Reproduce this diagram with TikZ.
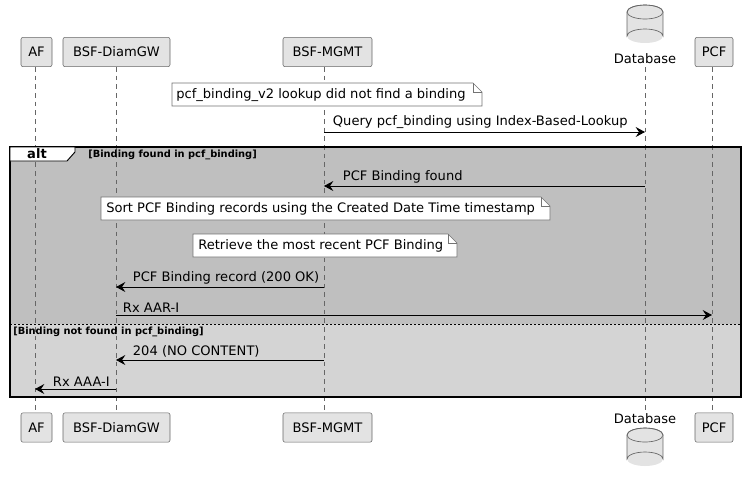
\documentclass[tikz,border=0pt]{standalone}
\usepackage{fontspec}
\setmainfont{DejaVu Sans}
\usetikzlibrary{arrows.meta}
\begin{document}
\begin{tikzpicture}[x=0.75pt,y=-0.75pt,font=\fontsize{9.8}{11}\selectfont,
 part/.style={draw=black!60,fill=black!11,rounded corners=1.5pt,minimum height=22pt,inner sep=3pt},
 life/.style={draw=black!60,dash pattern=on 3.5pt off 3pt,line width=0.5pt},
 msg/.style={-{Stealth[length=7pt,width=7.5pt,inset=2.5pt]},line width=0.7pt},
 lbl/.style={anchor=south west,inner sep=2pt},
 note/.style={draw=black!55,fill=white,line width=0.5pt}]
\useasboundingbox (0,0) rectangle (755,480);
% frame
\fill[black!25] (10,147) rectangle (741,324);
\fill[black!17] (10,324) rectangle (741,397);
% lifelines
\foreach \n/\x in {af/35,gw/116,mg/324,db/645,pcf/712}{
 \draw[life] (\x,67) -- (\x,413);
 \coordinate (\n) at (\x,0);}
% participants
\foreach \t/\x/\w in {AF/36.5/31,BSF-DiamGW/116.5/107,BSF-MGMT/327.5/89,PCF/714/38}{
 \node[part,minimum width=\w*0.75pt] (top\t) at (\x,52) {\t};
 \node[part,minimum width=\w*0.75pt] (bot\t) at (\x,427.5) {\t};}
% database cylinders
\newcommand{\dbcyl}[2]{%
 \fill[black!11] (#1-18,#2) rectangle (#1+18,#2+24);
 \fill[black!11] (#1,#2+24) ellipse (18 and 7);
 \draw[black!60,line width=0.5pt] (#1-18,#2) -- (#1-18,#2+24) arc[start angle=180,end angle=360,x radius=18,y radius=7] -- (#1+18,#2);
 \draw[black!60,fill=black!11,line width=0.5pt] (#1,#2) ellipse (18 and 7);
 \draw[black!60,line width=0.5pt] (#1-18,#2) arc[start angle=180,end angle=360,x radius=18,y radius=7];}
\dbcyl{645}{12}
\node (dbtop) at (645,59) {Database};
\dbcyl{645}{435}
\node (dbbot) at (645,419) {Database};
% note 1
\draw[note] (172,83) -- (473,83) -- (482,92) -- (482,106) -- (172,106) -- cycle;
\draw[black!55,line width=0.5pt] (473,83) -- (473,92) -- (482,92);
\node[anchor=west,inner sep=0] (n1) at (176,95) {pcf\_binding\_v2 lookup did not find a binding};
% query
\draw[msg] (324,132) -- (645,132);
\node[lbl] (q) at (330,132) {Query pcf\_binding using Index-Based-Lookup};
% alt frame
\draw[line width=1.3pt] (10,147) rectangle (741,397);
\draw[fill=white,line width=0.7pt] (10,147) -- (75,147) -- (75,152) -- (67,161) -- (10,161) -- cycle;
\node[font=\fontsize{9.8}{11}\bfseries\selectfont] (alt) at (37,154) {alt};
\node[anchor=west,inner sep=0,font=\fontsize{7.4}{9}\bfseries\selectfont] (c1) at (88,155) {[Binding found in pcf\_binding]};
\draw[msg] (645,186) -- (324,186);
\node[lbl] (m2) at (340,186) {PCF Binding found};
% notes
\draw[note] (101,197) -- (541,197) -- (550,206) -- (550,220) -- (101,220) -- cycle;
\draw[black!55,line width=0.5pt] (541,197) -- (541,206) -- (550,206);
\node[anchor=west,inner sep=0] (n2) at (106,209) {Sort PCF Binding records using the Created Date Time timestamp};
\draw[note] (193,234) -- (448,234) -- (457,243) -- (457,257) -- (193,257) -- cycle;
\draw[black!55,line width=0.5pt] (448,234) -- (448,243) -- (457,243);
\node[anchor=west,inner sep=0] (n3) at (198,246) {Retrieve the most recent PCF Binding};
\draw[msg] (324,287) -- (116,287);
\node[lbl] (m3) at (130,287) {PCF Binding record (200 OK)};
\draw[msg] (116,315) -- (712,315);
\node[lbl] (m4) at (120,315) {Rx AAR-I};
\draw[dash pattern=on 1.5pt off 1.5pt,line width=0.7pt] (10,324) -- (741,324);
\node[anchor=west,inner sep=0,font=\fontsize{7.4}{9}\bfseries\selectfont] (c2) at (13,332) {[Binding not found in pcf\_binding]};
\draw[msg] (324,360) -- (116,360);
\node[lbl] (m5) at (130,360) {204 (NO CONTENT)};
\draw[msg] (116,389) -- (35,389);
\node[lbl] (m6) at (50,389) {Rx AAA-I};
\end{tikzpicture}
\end{document}
